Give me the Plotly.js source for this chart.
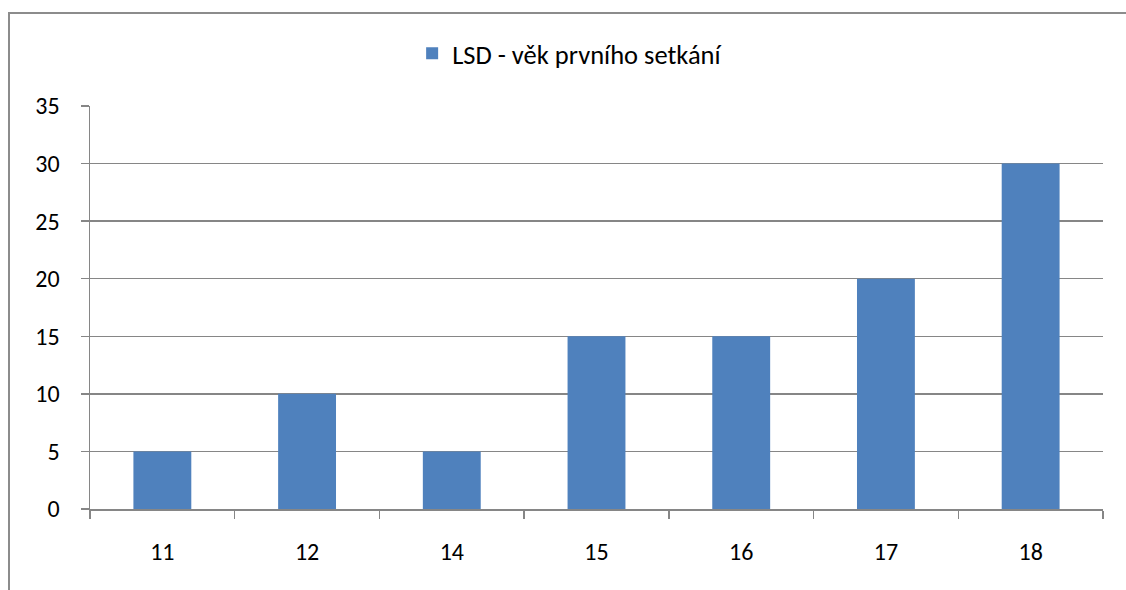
<!DOCTYPE html>
<html><head><meta charset="utf-8">
<script src="https://cdn.plot.ly/plotly-3.0.1.min.js"></script>
<style>
html,body{margin:0;padding:0;background:#fff;}
#wrap{position:relative;width:1126px;height:590px;overflow:hidden;}
#border{position:absolute;left:8px;top:12px;width:1200px;height:700px;border:2px solid #8c8c8c;box-sizing:border-box;pointer-events:none;z-index:5;}
#chart{position:absolute;left:0;top:0;width:1126px;height:590px;}
</style></head>
<body><div id="wrap"><div id="chart"></div><div id="border"></div></div>
<script>
const categories = ["11","12","14","15","16","17","18"];
const values = [5,10,5,15,15,20,30];
const seriesName = "LSD - věk prvního setkání";
const yTicks = [0,5,10,15,20,25,30,35];

const font = {family: "Carlito, Calibri, 'Open Sans', sans-serif", size: 24, color: "#000"};
const legendFont = {family: "Carlito, Calibri, 'Open Sans', sans-serif", size: 26.5, color: "#000"};
Plotly.newPlot("chart", [{
  type: "bar", x: categories, y: values, name: seriesName,
  marker: {color: "#4F81BD"}, showlegend: true
}], {
  width: 1126, height: 590,
  margin: {l: 90, r: 23, t: 106, b: 81},
  paper_bgcolor: "#fff", plot_bgcolor: "#fff",
  bargap: 0.6,
  font: font,
  showlegend: true,
  legend: {orientation: "h", x: 0.318, xanchor: "left", y: 1.13, yanchor: "middle", yref: "paper", font: legendFont},
  xaxis: {type: "category", showline: true, linecolor: "#868686", linewidth: 1.5,
    ticks: "outside", tickson: "boundaries", ticklen: 8, tickcolor: "#868686", tickwidth: 1.5,
    showgrid: false, zeroline: false, tickfont: font, ticklabelstandoff: 21},
  yaxis: {range: [0,35], tickvals: yTicks, showline: true, linecolor: "#868686", linewidth: 1.5,
    ticks: "outside", ticklen: 8, tickcolor: "#868686", tickwidth: 1.5,
    showgrid: true, gridcolor: "#868686", gridwidth: 1.5, zeroline: false, tickfont: font, ticklabelstandoff: 16}
}, {displayModeBar: false, staticPlot: true});
</script></body></html>
